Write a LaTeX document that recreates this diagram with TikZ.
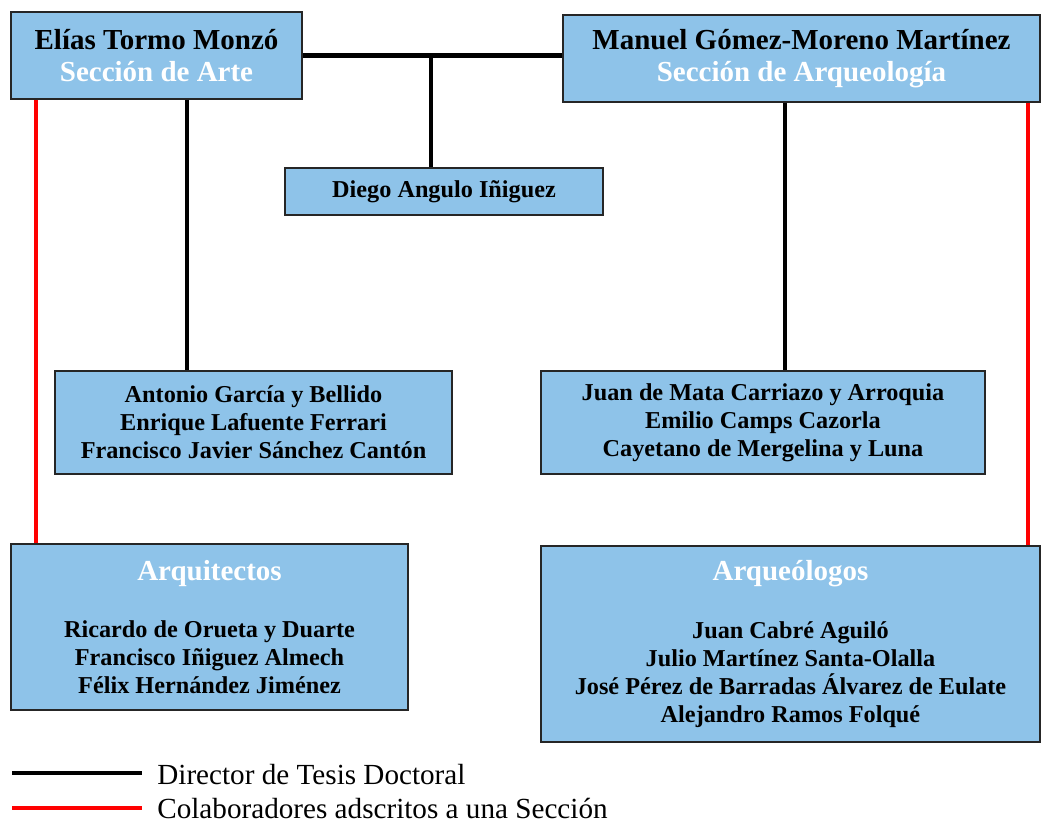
\documentclass[tikz,border=0pt]{standalone}
\usepackage{fontspec}
\setmainfont{Liberation Serif}
\definecolor{cajaazul}{RGB}{142,195,233}
\definecolor{rojo}{RGB}{255,0,0}
\newcommand{\grande}{\fontsize{16.5}{18.1}\selectfont}
\newcommand{\medio}{\fontsize{13.8}{15.9}\selectfont}
\newcommand{\seccion}[1]{\textcolor{white}{#1}}
\tikzset{
  caja/.style={draw=black!85, line width=0.7pt, fill=cajaazul, align=center, inner sep=0pt},
  cabecera/.style={caja, font=\bfseries\grande, minimum height=1.74cm},
  grupo/.style={caja, font=\bfseries\medio},
  director/.style={line width=2.8pt, black},
  colaborador/.style={line width=2.8pt, rojo},
}
\begin{document}
\begin{tikzpicture}[x=0.02cm,y=-0.02cm]
  \useasboundingbox (0,0) rectangle (1041,823);
  % cabeceras
  \node[cabecera, minimum width=5.82cm] (tormo) at (156.5,55.5)
    {Elías Tormo Monzó\\\seccion{Sección de Arte}};
  \node[cabecera, minimum width=9.54cm] (gomez) at (801.5,58.5)
    {Manuel Gómez-Moreno Martínez\\\seccion{Sección de Arqueología}};
  \node[grupo, minimum width=6.36cm, minimum height=0.94cm] (angulo) at (444,191.5)
    {Diego Angulo Iñiguez};
  % doctorandos
  \node[grupo, minimum width=7.94cm, minimum height=2.06cm] (arte) at (253.5,422.5)
    {Antonio García y Bellido\\Enrique Lafuente Ferrari\\Francisco Javier Sánchez Cantón};
  \node[grupo, minimum width=8.88cm, minimum height=2.06cm] (arqueo) at (763,422.5)
    {Juan de Mata Carriazo y Arroquia\\Emilio Camps Cazorla\\Cayetano de Mergelina y Luna};
  % colaboradores
  \node[grupo, minimum width=7.94cm, minimum height=3.32cm] (arquitectos) at (209.5,627)
    {{\grande\seccion{Arquitectos}}\\[17pt]Ricardo de Orueta y Duarte\\Francisco Iñiguez Almech\\Félix Hernández Jiménez};
  \node[grupo, minimum width=9.98cm, minimum height=3.92cm] (arqueologos) at (790.5,644)
    {{\grande\seccion{Arqueólogos}}\\[17pt]Juan Cabré Aguiló\\Julio Martínez Santa-Olalla\\José Pérez de Barradas Álvarez de Eulate\\Alejandro Ramos Folqué};
  % enlaces
  \coordinate (cruce) at (431,55.5);
  \coordinate (colarte) at (187,0);
  \coordinate (colarq) at (785,0);
  \coordinate (rojoizq) at (36,0);
  \coordinate (rojoder) at (1028,0);
  \draw[director] (cruce -| tormo.east) -- (cruce -| gomez.west);
  \draw[director] (cruce) -- (cruce |- angulo.north);
  \draw[director] (colarte |- tormo.south) -- (colarte |- arte.north);
  \draw[director] (colarq |- gomez.south) -- (colarq |- arqueo.north);
  \draw[colaborador] (rojoizq |- tormo.south) -- (rojoizq |- arquitectos.north);
  \draw[colaborador] (rojoder |- gomez.south) -- (rojoder |- arqueologos.north);
  % leyenda
  \coordinate (negroa) at (12,773);
  \coordinate (negrob) at (142,773);
  \coordinate (rojoa) at (12,808);
  \coordinate (rojob) at (142,808);
  \draw[director] (negroa) -- (negrob);
  \draw[colaborador] (rojoa) -- (rojob);
  \node[anchor=west, inner sep=0pt, font=\fontsize{16.6}{18}\selectfont] (leyenda1) at (157,775) {Director de Tesis Doctoral};
  \node[anchor=west, inner sep=0pt, font=\fontsize{16.6}{18}\selectfont] (leyenda2) at (157,808) {Colaboradores adscritos a una Sección};
\end{tikzpicture}
\end{document}
